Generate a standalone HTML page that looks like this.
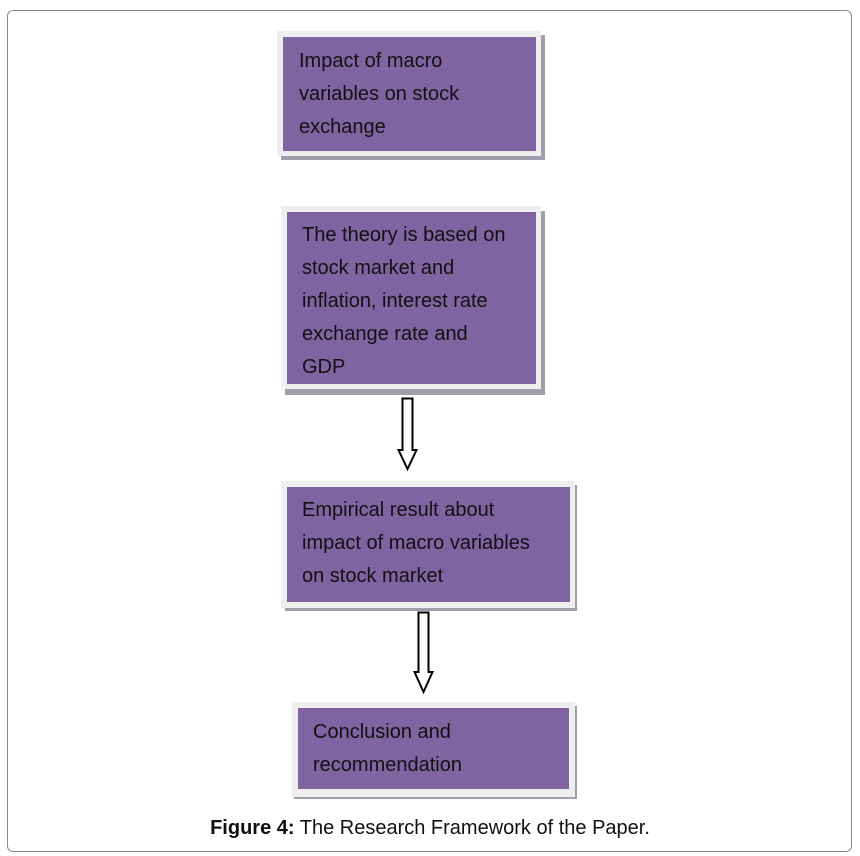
<!DOCTYPE html>
<html><head><meta charset="utf-8"><style>
body{margin:0;width:860px;height:856px;background:#fff;position:relative;overflow:hidden;font-family:"Liberation Sans",sans-serif}
.frame{position:absolute;left:7px;top:10px;width:843px;height:840px;border:1.5px solid #8a8a8a;border-radius:6px}
.sh{position:absolute;background:#a39cad}
.out{position:absolute;background:#eeeeee}
.in{position:absolute;background:#8064a2}
.t{position:absolute;font-size:20px;color:#111;line-height:33px;white-space:nowrap}
.cap{position:absolute;left:0;width:860px;top:817px;text-align:center;font-size:20px;color:#111}
</style></head><body>
<div class="frame"></div>

<div class="sh" style="left:281px;top:35px;width:264px;height:125px"></div>
<div class="out" style="left:277px;top:31px;width:264px;height:125px"></div>
<div class="in" style="left:283px;top:37px;width:253px;height:114px"></div>
<div class="t" style="left:299px;top:45px">Impact of macro<br>variables on stock<br>exchange</div>

<div class="sh" style="left:285px;top:211px;width:260px;height:184px"></div>
<div class="out" style="left:281px;top:206px;width:260px;height:183px"></div>
<div class="in" style="left:287px;top:212px;width:249px;height:172px"></div>
<div class="t" style="left:302px;top:219px">The theory is based on<br>stock market and<br>inflation, interest rate<br>exchange rate and<br>GDP</div>

<div class="sh" style="left:285px;top:485px;width:292px;height:126px"></div>
<div class="out" style="left:281px;top:481px;width:294px;height:127px"></div>
<div class="in" style="left:287px;top:487px;width:283px;height:115px"></div>
<div class="t" style="left:302px;top:494px">Empirical result about<br>impact of macro variables<br>on stock market</div>

<div class="sh" style="left:294px;top:706px;width:283px;height:93px"></div>
<div class="out" style="left:292px;top:702px;width:283px;height:95px"></div>
<div class="in" style="left:298px;top:708px;width:271px;height:81px"></div>
<div class="t" style="left:313px;top:716px">Conclusion and<br>recommendation</div>

<svg style="position:absolute;left:0;top:0" width="860" height="856">
<polygon points="402.5,398.5 412.5,398.5 412.5,450 416.5,450 407.5,469 398.5,450 402.5,450" fill="#fff" stroke="#000" stroke-width="2"/>
<polygon points="418.5,612.5 428.5,612.5 428.5,672 432.5,672 423.5,692 414.5,672 418.5,672" fill="#fff" stroke="#000" stroke-width="2"/>
</svg>

<div class="cap"><b>Figure 4:</b> The Research Framework of the Paper.</div>
</body></html>
